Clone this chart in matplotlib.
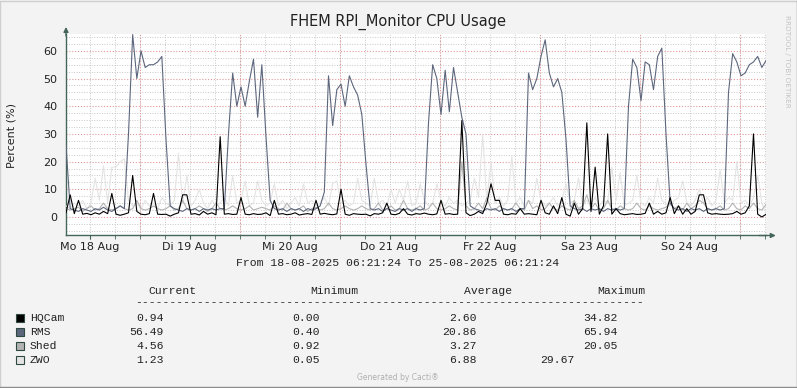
import numpy as np
import pandas as pd
import matplotlib
matplotlib.use('Agg')
import matplotlib.pyplot as plt
import matplotlib.dates as mdates
from matplotlib.patches import Rectangle
from matplotlib.lines import Line2D

# hourly samples, 18-08-2025 06:21:24 .. 25-08-2025 06:21:24 (one row = one day)
start = '2025-08-18 06:21:24'

hqcam = [
    1.5, 8, 1.2, 6, 1, 1.3, 0.8, 1.5, 1, 2, 1.2, 8.5, 1, 0.6, 1, 1.5, 15, 2, 1, 0.8, 1.2, 8.5, 1, 0.9,
    1, 0.3, 1, 1.5, 8, 8, 1, 1.2, 0.7, 2, 1, 1.5, 0.8, 29, 1, 1.2, 0.9, 1, 7, 1, 0.8, 1.2, 0.9, 1,
    1.5, 0.5, 6, 1, 1.2, 0.8, 1, 1.5, 0.7, 1, 1.2, 0.9, 6, 1, 1.3, 1, 0.8, 1.1, 10, 1, 0.6, 1.2, 1, 0.9,
    1, 0.4, 1.2, 1, 1.5, 5, 1, 0.8, 1.3, 3, 1, 0.7, 1.2, 1, 1.4, 1, 0.8, 1.1, 6, 1, 1.2, 0.9, 1, 34.8,
    1.5, 0.5, 1, 2, 1.2, 5, 12, 6, 6, 1, 0.8, 1.2, 1, 3, 1, 1.2, 1, 0.8, 6, 1.5, 1, 4, 1.2, 7,
    1, 0.3, 5, 1, 3, 34, 2, 18, 1, 4, 30, 1, 3, 1.2, 0.8, 1, 1.2, 0.9, 1, 1.3, 5, 1, 2, 1,
    1.5, 7, 1.2, 4, 1, 3, 1, 2, 8, 8, 1.5, 1, 1.2, 1, 0.9, 1, 1.2, 2, 1, 1.5, 4, 30, 1, 0,
    0.94,
]
rms = [
    26, 3, 2.5, 2, 3, 2.5, 2, 3, 2.5, 3.5, 2.5, 2, 3, 4, 3, 30, 65.9, 50, 60, 54, 55, 55, 56, 58,
    28, 4, 3, 2.5, 2, 3, 2.5, 3, 2, 3, 2.5, 3, 2.5, 3, 3, 30, 52, 40, 47, 40, 49, 57, 36, 55,
    29, 6, 3, 2.5, 3, 2, 3, 2.5, 3, 2, 3, 2.5, 3, 4, 9, 51, 33, 46, 48, 40, 51, 47, 44, 37,
    19, 3, 2.5, 3, 2, 3, 2.5, 2, 3, 2.5, 3, 2, 3, 2.5, 3, 34, 55, 50, 37, 53, 38, 54, 45, 36,
    30, 4, 3, 2.5, 2, 3, 2.5, 3, 2, 3, 2.5, 3, 2, 3, 3, 52, 46, 50, 58, 64, 52, 47, 50, 45,
    28, 4, 3, 2.5, 3, 2, 3, 2.5, 3, 2, 3, 2.5, 3, 2.5, 3, 40, 57, 54, 42, 56, 55, 46, 58, 61,
    30, 5, 3, 2.5, 3, 2, 3, 2.5, 3, 2, 3, 2.5, 3, 2.5, 3, 45, 59, 56, 51, 52, 55, 56, 58, 54,
    56.49,
]
shed = [
    3, 2.5, 3, 3.5, 2, 3, 4, 2.5, 3, 5, 3, 2.5, 3, 4, 3, 2.5, 3, 6, 3, 2.5, 3, 4, 3, 2.5,
    3, 4, 2.5, 3, 6, 3, 2.5, 3, 4, 3, 2, 3, 5, 3, 2.5, 3, 4, 3, 2.5, 3, 4, 2.5, 3, 3.5,
    3, 2.5, 4, 3, 2.5, 5, 3, 2.5, 3, 4, 2, 3, 3.5, 2.5, 3, 5, 3, 2.5, 3, 4, 3, 2.5, 3, 4,
    3, 2.5, 3, 5, 2.5, 3, 4, 2.5, 3, 6, 3, 2.5, 3, 4, 2.5, 3, 5, 3, 2.5, 3, 4, 3, 2.5, 20,
    4, 2.5, 3, 5, 3, 7, 3, 2.5, 4, 3, 2.5, 3, 5, 3, 2.5, 6, 3, 4, 2.5, 3, 5, 3, 2.5, 4,
    3, 2.5, 6, 3, 4, 8, 3, 5, 2.5, 3, 6, 3, 2.5, 4, 3, 2.5, 3, 5, 3, 2.5, 4, 3, 2.5, 3,
    3.5, 5, 3, 4, 2.5, 5, 3, 4, 6, 5, 3, 2.5, 3, 4, 2.5, 3, 5, 3, 2.5, 4, 3, 5, 3, 2.5,
    4.56,
]
zwo = [
    4, 3, 5, 4, 6, 3, 5, 14, 6, 18.5, 5, 18, 18, 20, 21, 6, 4, 5, 3, 6, 4, 5, 3, 7,
    5, 4, 6, 23, 5, 15, 4, 6, 10, 5, 3, 6, 4, 5, 7, 4, 15, 5, 6, 13, 4, 5, 13, 6,
    4, 5, 12, 4, 6, 3, 5, 7, 4, 12, 5, 6, 4, 5, 7, 4, 12, 13, 5, 6, 4, 5, 14, 6,
    5, 4, 14, 5, 6, 4, 10, 5, 10, 6, 13, 4, 5, 12, 6, 4, 5, 12, 6, 4, 7, 5, 6, 4,
    5, 6, 14, 7, 29.67, 6, 20, 5, 7, 4, 6, 22, 5, 7, 4, 6, 5, 14, 6, 4, 5, 7, 4, 6,
    12, 5, 6, 14, 4, 6, 5, 7, 4, 6, 5, 18, 6, 16, 4, 5, 6, 15, 5, 4, 7, 5, 14, 6,
    5, 4, 6, 7, 13, 5, 4, 6, 10, 5, 7, 4, 6, 17, 5, 7, 6, 20, 5, 6, 4, 7, 15, 5,
    1.23,
]

names = ['HQCam', 'RMS', 'Shed', 'ZWO']
colors = ['#000000', '#5c667c', '#b4b4b4', '#e4e4e4']
current = ['0.94', '56.49', '4.56', '1.23']
minimum = ['0.00', '0.40', '0.92', '0.05']
average = ['2.60', '20.86', '3.27', '6.88']
maximum = ['34.82', '65.94', '20.05', '29.67']
day_labels = ['Mo 18 Aug', 'Di 19 Aug', 'Mi 20 Aug', 'Do 21 Aug', 'Fr 22 Aug', 'Sa 23 Aug', 'So 24 Aug']

W, H = 797, 388
fig = plt.figure(figsize=(W / 100, H / 100), dpi=100, facecolor='#f3f3f3')


def fx(px):
    return px / W


def fy(py):
    return 1 - py / H


axc = '#46655a'
mono = ['Liberation Mono', 'DejaVu Sans Mono']
txtc = '#222222'

times = pd.date_range(start, periods=len(rms), freq='h')
series = dict(zip(names, [hqcam, rms, shed, zwo]))

ax = fig.add_axes([fx(66), fy(235.5), 700 / W, (235.5 - 34) / H])
ax.set_facecolor('white')
ax.set_axisbelow(True)

# light series first, dark ones on top
for name in ['ZWO', 'Shed', 'RMS', 'HQCam']:
    ax.plot(times, series[name], color=colors[names.index(name)], lw=0.8, zorder=3)

ax.set_xlim(times[0], times[-1])
ax.set_ylim(-6.7, 66.1)

noons = pd.date_range('2025-08-18 12:00', periods=7, freq='D')
ax.set_xticks(noons)
ax.set_xticklabels(day_labels)
ax.xaxis.set_minor_locator(mdates.HourLocator(byhour=[0, 6, 12, 18]))
ax.xaxis.remove_overlapping_locs = False
ax.set_yticks(range(0, 61, 10))
ax.yaxis.set_minor_locator(plt.MultipleLocator(2.5))

dot = (0, (1, 1.6))
ax.xaxis.grid(True, which='minor', color='#c8c8c8', ls=dot, lw=0.7)
ax.yaxis.grid(True, which='minor', color='#c8c8c8', ls=dot, lw=0.7)
ax.yaxis.grid(True, which='major', color='#e49a9a', ls=dot, lw=0.8)
for d in pd.date_range('2025-08-19', periods=7, freq='D'):
    ax.axvline(d, color='#e49a9a', ls=dot, lw=0.8, zorder=1)

ax.tick_params(axis='x', which='both', length=3, color=axc, direction='out',
               labelsize=8, labelcolor=txtc, pad=2)
ax.tick_params(axis='y', which='both', length=0, labelsize=8, labelcolor=txtc, pad=6)
for s in ['top', 'right']:
    ax.spines[s].set_visible(False)
for s in ['left', 'bottom']:
    ax.spines[s].set_color(axc)
    ax.spines[s].set_linewidth(1)

arrow = dict(arrowstyle='-|>', color=axc, lw=1, mutation_scale=7, shrinkA=0, shrinkB=0)
ax.annotate('', xy=(1.014, 0), xytext=(0.99, 0), xycoords='axes fraction', arrowprops=arrow,
            annotation_clip=False)
ax.annotate('', xy=(0, 1.035), xytext=(0, 0.99), xycoords='axes fraction', arrowprops=arrow,
            annotation_clip=False)

fig.text(fx(398), fy(22), 'FHEM RPI_Monitor CPU Usage', ha='center', va='center',
         fontsize=10.5, color=txtc)
fig.text(fx(12), fy(135), 'Percent (%)', rotation=90, ha='center', va='center',
         fontsize=8, color=txtc)
fig.text(fx(398), fy(263), 'From 18-08-2025 06:21:24 To 25-08-2025 06:21:24',
         ha='center', va='center', family=mono, fontsize=8.2, color=txtc)

# legend table
lg = dict(family=mono, fontsize=8.2, color=txtc, va='center')
for label, x in zip(['Current', 'Minimum', 'Average', 'Maximum'], [148, 310, 464, 597]):
    fig.text(fx(x), fy(291), label, ha='left', **lg)
fig.text(fx(135), fy(302), '-' * 74, ha='left', **lg)
rows_y = [318, 332, 346, 360]
for k, name in enumerate(names):
    y = rows_y[k]
    fig.patches.append(Rectangle((fx(16), fy(y + 4)), 8 / W, 8 / H, transform=fig.transFigure,
                                 facecolor=colors[k], edgecolor='#2e4a3e', lw=0.8))
    fig.text(fx(30), fy(y), name, ha='left', **lg)
    fig.text(fx(164), fy(y), current[k], ha='right', **lg)
    fig.text(fx(320), fy(y), minimum[k], ha='right', **lg)
    fig.text(fx(477), fy(y), average[k], ha='right', **lg)
    fig.text(fx(575 if name == 'ZWO' else 618), fy(y), maximum[k], ha='right', **lg)

fig.text(fx(787), fy(61), 'RRDTOOL / TOBI OETIKER', rotation=-90, ha='center', va='center',
         fontsize=5.2, color='#c4c4c4')
fig.text(fx(398), fy(378), 'Generated by Cacti\u00ae', ha='center', va='center',
         fontsize=5.5, color='#b0b0b0')

# frame around the image
fig.lines.append(Line2D([0.0006, 0.0006, 0.9994], [0.0013, 0.9987, 0.9987],
                        transform=fig.transFigure, color='#cfcfcf', lw=1))
fig.lines.append(Line2D([0.0006, 0.9994, 0.9994], [0.0013, 0.0013, 0.9987],
                        transform=fig.transFigure, color='#8c8c8c', lw=1))

fig.savefig('out.png', dpi=100, facecolor=fig.get_facecolor())
